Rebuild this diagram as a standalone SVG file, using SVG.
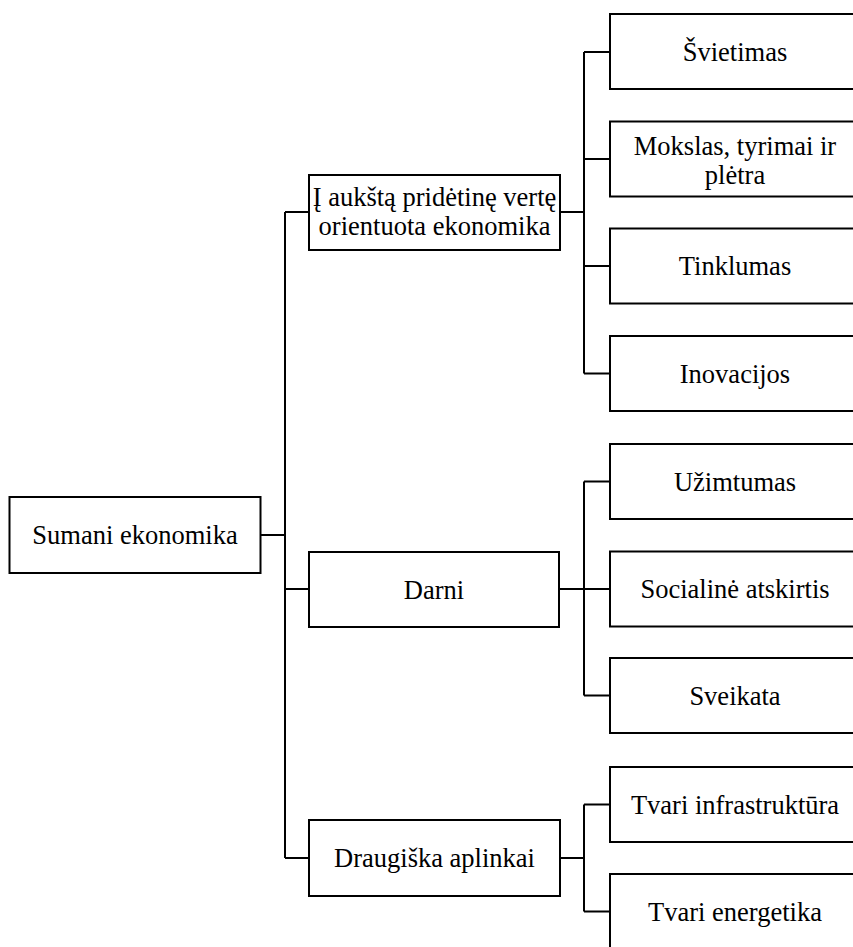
<svg xmlns="http://www.w3.org/2000/svg" width="853" height="947" viewBox="0 0 853 947">
<style>
  .box { fill: #ffffff; stroke: #000000; stroke-width: 2; }
  .lbl { font-family: "Liberation Serif", "Times New Roman", serif; font-size: 26.5px; fill: #000000; text-anchor: middle; }
  .conn { fill: none; stroke: #000000; stroke-width: 2; }
</style>
<rect x="0" y="0" width="853" height="947" fill="#ffffff"/>
<g id="connectors">
  <path class="conn" d="M260 535 H285 M285 212 V858 M285 212 H309 M285 589 H309 M285 858 H309"/>
  <path class="conn" d="M560 212 H584 M584 52 V373.5 M584 52 H610 M584 159 H610 M584 266 H610 M584 373.5 H610"/>
  <path class="conn" d="M559 589 H584 M584 481.5 V695.5 M584 481.5 H610 M584 589 H610 M584 695.5 H610"/>
  <path class="conn" d="M560 858 H584 M584 804.5 V911.5 M584 804.5 H610 M584 911.5 H610"/>
</g>
<g id="n-root">
  <rect class="box" x="9.5" y="497" width="251" height="76"/>
  <text class="lbl" x="135" y="544">Sumani ekonomika</text>
</g>
<g id="n-aukstos">
  <rect class="box" x="309" y="175" width="251" height="75"/>
  <text class="lbl" x="434.5" y="205.5">Į aukštą pridėtinę vertę</text>
  <text class="lbl" x="434.5" y="234.5">orientuota ekonomika</text>
</g>
<g id="n-darni">
  <rect class="box" x="309" y="552" width="250" height="75"/>
  <text class="lbl" x="434" y="598.5">Darni</text>
</g>
<g id="n-draugiska">
  <rect class="box" x="309" y="820" width="251" height="76"/>
  <text class="lbl" x="434.5" y="867">Draugiška aplinkai</text>
</g>
<g id="n-svietimas">
  <rect class="box" x="610" y="14" width="260" height="75"/>
  <text class="lbl" x="735" y="60.5">Švietimas</text>
</g>
<g id="n-mokslas">
  <rect class="box" x="610" y="121.5" width="260" height="75"/>
  <text class="lbl" x="735" y="155">Mokslas, tyrimai ir</text>
  <text class="lbl" x="735" y="183.5">plėtra</text>
</g>
<g id="n-tinklumas">
  <rect class="box" x="610" y="228.5" width="260" height="75"/>
  <text class="lbl" x="735" y="275">Tinklumas</text>
</g>
<g id="n-inovacijos">
  <rect class="box" x="610" y="336" width="260" height="75"/>
  <text class="lbl" x="735" y="382.5">Inovacijos</text>
</g>
<g id="n-uzimtumas">
  <rect class="box" x="610" y="444" width="260" height="75"/>
  <text class="lbl" x="735" y="490.5">Užimtumas</text>
</g>
<g id="n-socialine">
  <rect class="box" x="610" y="551.5" width="260" height="75"/>
  <text class="lbl" x="735" y="598">Socialinė atskirtis</text>
</g>
<g id="n-sveikata">
  <rect class="box" x="610" y="658" width="260" height="75"/>
  <text class="lbl" x="735" y="704.5">Sveikata</text>
</g>
<g id="n-infra">
  <rect class="box" x="610" y="767" width="260" height="75"/>
  <text class="lbl" x="735" y="813.5">Tvari infrastruktūra</text>
</g>
<g id="n-energetika">
  <rect class="box" x="610" y="874" width="260" height="85"/>
  <text class="lbl" x="735" y="920.5">Tvari energetika</text>
</g>
</svg>
